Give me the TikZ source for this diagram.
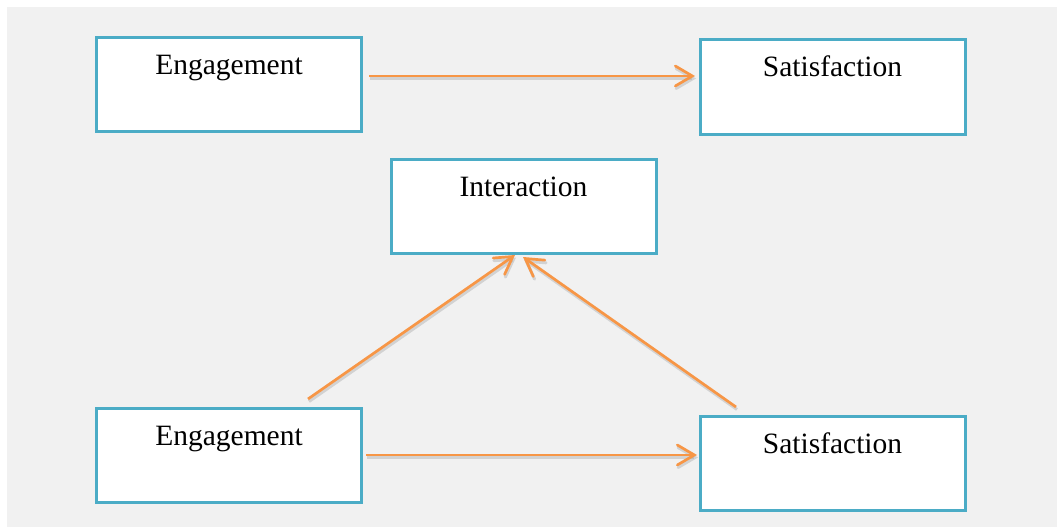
\documentclass[tikz,border=0pt]{standalone}
\usepackage{fontspec}
\setmainfont{Liberation Serif}
\usetikzlibrary{arrows.meta}
\definecolor{bgray}{HTML}{F1F1F1}
\definecolor{boxblue}{HTML}{4BACC6}
\definecolor{arrorange}{HTML}{F79646}
\tikzset{
  vbox/.style={draw=boxblue, line width=3pt, fill=white, minimum width=265pt,
    inner xsep=0pt, inner ysep=0pt, text height=37pt, text depth=57pt,
    font=\fontsize{29.5}{34}\selectfont},
  conn/.style={draw=arrorange, line width=2.7pt,
    -{Straight Barb[length=17pt,width=20pt,line cap=round]},
    preaction={draw=black!40, opacity=0.35, line width=3pt, transform canvas={xshift=1pt,yshift=-2.5pt}}}
}
\begin{document}
\begin{tikzpicture}[x=1pt,y=-1pt]
\useasboundingbox (0,0) rectangle (1057,527);
\fill[white] (0,0) rectangle (1057,527);
\fill[bgray] (7,7) rectangle (1057,527);

\node[vbox] (e1) at (229,84.5) {Engagement};
\node[vbox] (s1) at (832.5,87) {Satisfaction};
\node[vbox] (in) at (523.5,206) {Interaction};
\node[vbox] (e2) at (229,455) {Engagement};
\node[vbox] (s2) at (832.5,463) {Satisfaction};

\coordinate (a1s) at (369,76);
\coordinate (a1e) at (695,76);
\coordinate (a2s) at (366,455);
\coordinate (a2e) at (697,455);
\coordinate (a3s) at (308,399);
\coordinate (a3e) at (515,255);
\coordinate (a4s) at (736,407);
\coordinate (a4e) at (523,257);

\draw[conn] (a1s) -- (a1e);
\draw[conn] (a2s) -- (a2e);
\draw[conn] (a3s) -- (a3e);
\draw[conn] (a4s) -- (a4e);
\end{tikzpicture}
\end{document}
